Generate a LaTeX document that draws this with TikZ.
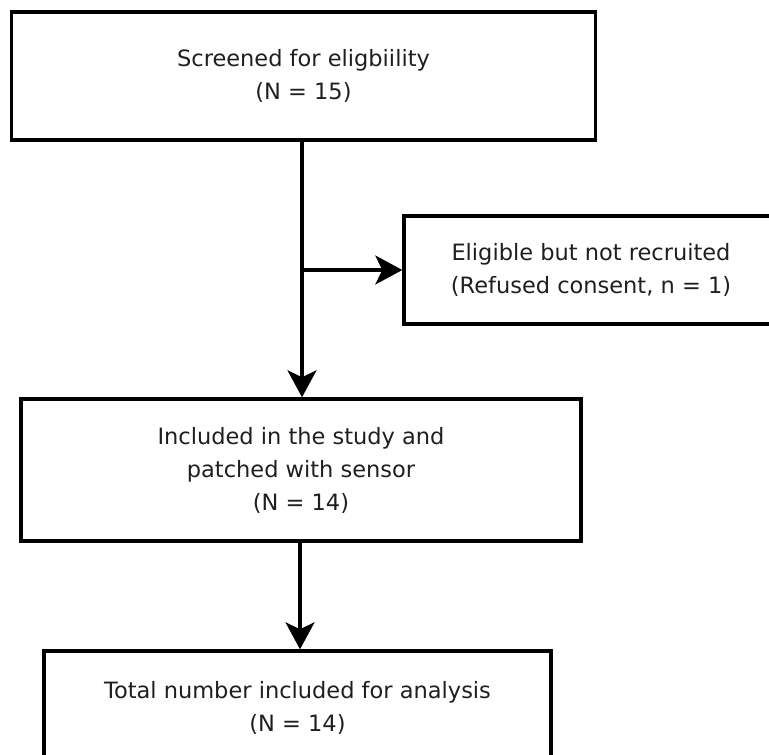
\documentclass[tikz,border=0pt]{standalone}
\usepackage{fontspec}
\setmainfont{DejaVu Sans}
\usetikzlibrary{arrows.meta}
\begin{document}
\begin{tikzpicture}[x=1pt,y=-1pt,
  box/.style={draw, line width=3.4pt, inner sep=0pt, align=center,
    font=\fontsize{22.5}{33}\selectfont, text=black!88},
  arr/.style={line width=3.2pt, -{Stealth[length=27pt,width=29pt,inset=7pt]}}]
  \useasboundingbox (0,0) rectangle (769,755);
  \clip (0,0) rectangle (769,755);
  \node[box, minimum width=584pt, minimum height=128pt] (s) at (303.5,76)
    {Screened for eligbiility\\(N = 15)};
  \node[box, minimum width=374pt, minimum height=108pt] (e) at (591,270)
    {Eligible but not recruited\\(Refused consent, n = 1)};
  \node[box, minimum width=560pt, minimum height=142pt] (i) at (301,470)
    {Included in the study and\\patched with sensor\\(N = 14)};
  \node[box, minimum width=507pt, minimum height=114pt] (t) at (297.5,708)
    {Total number included for analysis\\(N = 14)};
  \coordinate (j) at (302,270);
  \draw[arr] (s.south -| j) -- (j |- i.north);
  \draw[arr] (j) -- (j -| e.west);
  \coordinate (k) at (300,0);
  \draw[arr] (k |- i.south) -- (k |- t.north);
\end{tikzpicture}
\end{document}
